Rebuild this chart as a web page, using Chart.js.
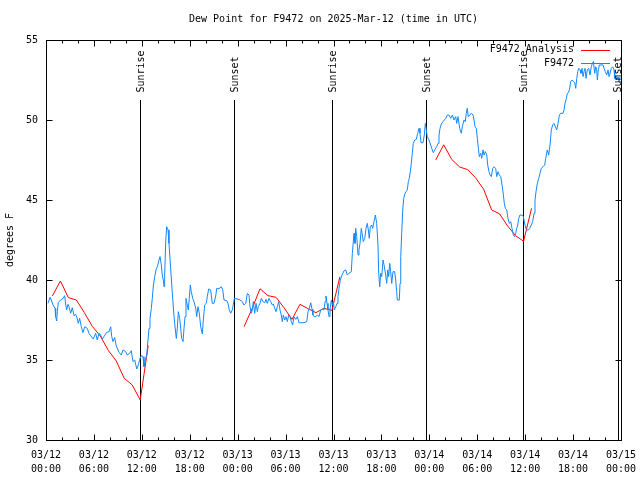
<!DOCTYPE html>
<html>
<head>
<meta charset="utf-8">
<title>Dew Point for F9472</title>
<script src="https://cdn.jsdelivr.net/npm/chart.js@4.4.1/dist/chart.umd.min.js"></script>
<style>
  html, body { margin: 0; padding: 0; background: #fff; }
  canvas { display: block; }
</style>
</head>
<body>
<canvas id="dewChart" width="640" height="480"></canvas>
<script>
// x values are hours since 03/12 00:00 UTC

// axis labels
const tickDates = ['03/12', '03/12', '03/12', '03/12', '03/13', '03/13', '03/13', '03/13', '03/14', '03/14', '03/14', '03/14', '03/15'];
const tickTimes = ['00:00', '06:00', '12:00', '18:00', '00:00', '06:00', '12:00', '18:00', '00:00', '06:00', '12:00', '18:00', '00:00'];
const yTicks = [30, 35, 40, 45, 50, 55];

// sunrise / sunset markers
const sunHours = [11.80, 23.58, 35.83, 47.63, 59.77, 71.59];
const sunLabels = ['Sunrise', 'Sunset', 'Sunrise', 'Sunset', 'Sunrise', 'Sunset'];

// F9472 observations
const blueHours = [
  0.25, 0.50, 0.66, 0.88, 1.13, 1.21, 1.34, 1.42, 1.54, 1.84,
  2.13, 2.34, 2.47, 2.59, 2.75, 2.88, 3.09, 3.29, 3.51, 3.72,
  3.92, 4.04, 4.22, 4.42, 4.63, 4.85, 5.17, 5.38, 5.60, 5.92,
  6.22, 6.42, 6.64, 6.85, 7.05, 7.26, 7.60, 7.89, 8.10, 8.23,
  8.39, 8.60, 8.80, 9.14, 9.43, 9.64, 9.98, 10.18, 10.48, 10.68,
  10.89, 11.11, 11.36, 11.56, 11.77, 11.93, 12.15, 12.27, 12.40, 12.61,
  12.77, 12.90, 13.02, 13.19, 13.31, 13.44, 13.61, 13.77, 13.94, 14.15,
  14.28, 14.44, 14.56, 14.69, 14.78, 14.86, 14.99, 15.11, 15.28, 15.40,
  15.62, 15.82, 16.03, 16.24, 16.32, 16.44, 16.57, 16.74, 16.87, 16.99,
  17.16, 17.28, 17.41, 17.53, 17.69, 17.82, 17.94, 18.07, 18.19, 18.37,
  18.53, 18.75, 18.87, 19.03, 19.20, 19.37, 19.57, 19.70, 19.87, 20.07,
  20.20, 20.37, 20.62, 20.82, 21.04, 21.25, 21.38, 21.66, 21.95, 22.13,
  22.29, 22.63, 22.79, 22.95, 23.13, 23.33, 23.45, 23.58, 24.17, 24.58,
  24.79, 25.01, 25.21, 25.42, 25.55, 25.71, 25.83, 25.96, 26.13, 26.30,
  26.46, 26.58, 26.80, 26.96, 27.17, 27.39, 27.55, 27.71, 27.92, 28.14,
  28.34, 28.46, 28.64, 28.80, 28.96, 29.14, 29.30, 29.46, 29.59, 29.72,
  29.89, 30.05, 30.22, 30.39, 30.55, 30.72, 30.89, 31.05, 31.27, 31.47,
  31.68, 32.31, 32.65, 32.81, 32.97, 33.15, 33.31, 33.43, 33.56, 33.81,
  33.97, 34.19, 34.40, 34.60, 34.81, 34.94, 35.06, 35.19, 35.31, 35.44,
  35.56, 35.73, 35.85, 35.98, 36.10, 36.28, 36.44, 36.56, 36.69, 36.85,
  37.07, 37.32, 37.53, 37.73, 37.94, 38.23, 38.36, 38.57, 38.69, 38.78,
  38.91, 39.07, 39.19, 39.32, 39.48, 39.61, 39.73, 39.91, 40.07, 40.23,
  40.36, 40.48, 40.61, 40.78, 40.91, 41.07, 41.24, 41.41, 41.57, 41.66,
  41.79, 41.91, 42.04, 42.20, 42.33, 42.54, 42.66, 42.79, 42.91, 43.04,
  43.16, 43.29, 43.45, 43.66, 43.79, 43.91, 43.99, 44.24, 44.33, 44.42,
  44.54, 44.67, 44.79, 44.96, 45.08, 45.24, 45.37, 45.49, 45.62, 45.74,
  45.87, 45.99, 46.17, 46.37, 46.54, 46.71, 46.83, 46.96, 47.21, 47.37,
  47.50, 47.62, 47.75, 47.96, 48.17, 48.37, 48.50, 48.71, 48.92, 49.09,
  49.21, 49.34, 49.50, 49.71, 50.05, 50.25, 50.46, 50.68, 50.88, 51.09,
  51.30, 51.43, 51.59, 51.80, 52.00, 52.13, 52.34, 52.50, 52.63, 52.75,
  52.88, 53.06, 53.26, 53.47, 53.60, 53.72, 53.88, 54.01, 54.14, 54.26,
  54.44, 54.56, 54.72, 54.85, 55.01, 55.19, 55.31, 55.47, 55.60, 55.76,
  55.94, 56.10, 56.31, 56.44, 56.60, 56.76, 56.94, 57.14, 57.27, 57.39,
  57.52, 57.69, 57.85, 58.02, 58.19, 58.35, 58.52, 58.69, 58.82, 58.94,
  59.07, 59.19, 59.35, 59.60, 59.77, 59.89, 60.07, 60.20, 60.40, 60.57,
  60.77, 60.94, 61.11, 61.23, 61.36, 61.52, 61.69, 61.86, 62.02, 62.23,
  62.45, 62.57, 62.77, 62.95, 63.11, 63.27, 63.45, 63.61, 63.95, 64.12,
  64.28, 64.45, 64.74, 64.87, 64.99, 65.16, 65.28, 65.41, 65.53, 65.71,
  65.87, 66.03, 66.21, 66.33, 66.46, 66.58, 66.71, 66.87, 66.99, 67.12,
  67.25, 67.37, 67.50, 67.62, 67.78, 67.96, 68.12, 68.28, 68.41, 68.54,
  68.71, 68.84, 68.96, 69.04, 69.16, 69.29, 69.75, 69.88, 70.04, 70.21,
  70.38, 70.50, 70.63, 70.79, 70.96, 71.13, 71.21, 71.34, 71.46, 71.63,
  71.75, 71.88
];
const blueValues = [
  38.54, 38.92, 38.75, 38.44, 38.23, 37.70, 37.44, 38.02, 38.60, 38.75,
  38.85, 39.02, 38.44, 38.13, 38.48, 38.33, 37.92, 38.27, 37.77, 37.85,
  37.60, 37.29, 37.60, 37.08, 36.71, 37.08, 36.98, 36.67, 36.52, 36.31,
  36.67, 36.25, 36.67, 36.56, 36.31, 36.46, 36.73, 36.77, 37.08, 36.46,
  36.15, 36.40, 35.88, 35.48, 35.31, 35.63, 35.52, 35.31, 35.42, 35.58,
  34.90, 35.00, 34.44, 34.69, 35.10, 35.27, 35.21, 34.58, 34.90, 35.31,
  36.25, 36.98, 37.60, 38.23, 38.85, 39.63, 40.21, 40.63, 40.83, 41.25,
  41.46, 40.94, 40.31, 40.00, 39.58, 40.31, 42.40, 43.33, 43.13, 42.29,
  40.63, 39.17, 37.71, 36.67, 36.35, 36.98, 38.02, 37.60, 36.98, 36.35,
  36.15, 36.98, 37.71, 38.85, 38.44, 38.13, 38.85, 39.69, 39.27, 38.85,
  38.65, 38.23, 37.71, 38.33, 37.92, 37.08, 36.63, 37.50, 38.44, 38.54,
  38.96, 39.44, 39.38, 38.54, 38.54, 39.00, 39.48, 39.46, 39.58, 39.38,
  38.75, 38.71, 38.54, 38.13, 37.92, 38.13, 38.44, 38.85, 38.79, 38.65,
  38.44, 38.54, 39.17, 39.06, 38.33, 37.92, 38.13, 38.65, 37.92, 38.54,
  38.02, 38.33, 38.54, 38.85, 38.65, 38.58, 38.79, 38.54, 38.85, 38.65,
  38.44, 38.50, 38.23, 38.02, 38.33, 38.65, 38.13, 37.81, 37.40, 37.81,
  37.50, 37.71, 37.40, 37.81, 37.71, 37.40, 37.19, 37.71, 37.54, 37.71,
  37.33, 37.33, 37.40, 38.02, 38.23, 38.58, 38.17, 37.81, 37.71, 37.71,
  37.81, 37.71, 38.13, 38.17, 38.13, 38.65, 39.00, 38.54, 38.13, 37.71,
  38.13, 38.75, 38.44, 38.65, 38.13, 38.33, 38.54, 38.96, 39.48, 40.00,
  40.31, 40.58, 40.63, 40.31, 40.42, 40.52, 41.67, 42.92, 42.29, 43.23,
  42.71, 41.56, 41.88, 42.29, 43.23, 42.81, 42.40, 42.60, 43.23, 43.54,
  43.13, 42.60, 43.33, 43.44, 43.23, 43.65, 44.06, 43.54, 42.19, 40.42,
  39.58, 40.42, 40.21, 41.25, 40.94, 40.31, 39.79, 40.63, 40.21, 41.04,
  40.52, 39.79, 40.52, 40.52, 40.00, 39.27, 38.75, 38.75, 39.79, 41.46,
  42.92, 44.38, 45.10, 45.42, 45.52, 45.63, 46.15, 46.35, 46.77, 47.29,
  47.92, 48.54, 48.75, 48.79, 49.17, 49.48, 49.17, 48.58, 48.58, 49.06,
  49.79, 49.38, 48.96, 48.75, 48.44, 48.13, 47.96, 48.17, 48.33, 48.54,
  49.06, 49.48, 49.75, 49.90, 50.10, 50.31, 50.31, 50.10, 50.31, 50.00,
  50.21, 49.79, 50.21, 49.48, 49.17, 49.58, 50.00, 49.90, 50.42, 50.73,
  50.21, 50.31, 50.42, 50.31, 50.00, 49.58, 49.48, 48.85, 48.23, 47.71,
  47.92, 47.60, 48.13, 47.81, 48.02, 47.81, 47.19, 46.77, 46.56, 46.46,
  46.98, 47.08, 46.98, 46.46, 46.77, 46.56, 46.46, 45.83, 45.31, 44.79,
  44.48, 44.38, 43.85, 43.54, 43.65, 43.23, 42.81, 42.71, 42.92, 43.23,
  43.44, 43.85, 44.06, 44.06, 43.96, 43.65, 43.23, 43.13, 43.13, 43.23,
  43.44, 43.65, 44.17, 45.00, 45.52, 46.04, 46.35, 46.67, 46.98, 47.08,
  47.19, 47.60, 48.13, 47.81, 48.44, 49.38, 49.69, 49.79, 49.38, 49.79,
  50.31, 50.42, 50.42, 50.63, 51.04, 51.35, 51.67, 51.71, 51.88, 52.40,
  52.50, 52.40, 52.33, 51.98, 52.60, 53.02, 53.23, 53.13, 52.92, 53.23,
  52.71, 53.02, 53.23, 52.60, 53.13, 53.23, 52.81, 53.33, 53.54, 53.65,
  52.92, 53.33, 53.13, 52.50, 53.13, 53.44, 53.44, 53.23, 53.02, 52.81,
  53.13, 52.71, 52.92, 53.23, 53.33, 53.13, 52.60, 52.81, 52.50, 52.71,
  52.40, 52.71
];

// F9472 Analysis (hourly runs, null = gap between runs)
const redHours = [
  0.8, 1.8, 2.8, 3.8, 4.8, 5.8, 6.8, 7.8, 8.8, 9.8, 10.8, 11.8, 12.8, null,
  24.8, 25.8, 26.8, 27.8, 28.8, 29.8, 30.8, 31.8, 32.8, 33.8, 34.8, 35.8, 36.8, null,
  48.8, 49.8, 50.8, 51.8, 52.8, 53.8, 54.8, 55.8, 56.8, 57.8, 58.8, 59.8, 60.8
];
const redValues = [
  39.00, 39.94, 38.90, 38.75, 37.96, 37.10, 36.50, 35.60, 34.94, 33.85, 33.44, 32.50, 35.90, null,
  37.08, 38.20, 39.45, 39.02, 38.92, 38.27, 37.54, 38.48, 38.21, 37.96, 38.23, 38.10, 40.20, null,
  47.50, 48.45, 47.54, 47.06, 46.90, 46.38, 45.67, 44.38, 44.13, 43.38, 42.77, 42.42, 44.48
];

const FONT = 'DejaVu Sans Mono';

function toPoints(xs, ys) {
  return xs.map((x, i) => (x === null ? { x: NaN, y: null } : { x: x, y: ys[i] }));
}

// gnuplot style border, inward ticks, sun markers, title, legend
const gnuplotDecor = {
  id: 'gnuplotDecor',
  beforeDatasetsDraw(chart) {
    const { ctx, chartArea: a, scales } = chart;
    ctx.save();
    ctx.strokeStyle = '#000';
    ctx.lineWidth = 1;
    const topY = a.bottom - (a.bottom - a.top) * 0.85;
    sunHours.forEach(h => {
      const px = Math.round(scales.x.getPixelForValue(h)) + 0.5;
      ctx.beginPath();
      ctx.moveTo(px, a.bottom);
      ctx.lineTo(px, topY);
      ctx.stroke();
    });
    ctx.restore();
  },
  afterDatasetsDraw(chart) {
    const { ctx, chartArea: a, scales } = chart;
    const L = Math.round(a.left) + 0.5, R = Math.round(a.right) + 0.5;
    const T = Math.round(a.top) + 0.5, B = Math.round(a.bottom) + 0.5;
    ctx.save();
    ctx.strokeStyle = '#000';
    ctx.lineWidth = 1;
    ctx.strokeRect(L, T, R - L, B - T);
    ctx.beginPath();
    for (let h = 0; h <= 72; h += 2) {
      const px = Math.round(scales.x.getPixelForValue(h)) + 0.5;
      const len = h % 6 === 0 ? 6 : 3;
      ctx.moveTo(px, B); ctx.lineTo(px, B - len);
      ctx.moveTo(px, T); ctx.lineTo(px, T + len);
    }
    yTicks.forEach(v => {
      const py = Math.round(scales.y.getPixelForValue(v)) + 0.5;
      ctx.moveTo(L, py); ctx.lineTo(L + 6, py);
      ctx.moveTo(R, py); ctx.lineTo(R - 6, py);
    });
    ctx.stroke();
    ctx.restore();
  },
  afterDraw(chart) {
    const { ctx, chartArea: a, scales } = chart;
    ctx.save();
    ctx.fillStyle = '#000';
    ctx.font = '10px ' + FONT;

    // title
    ctx.textAlign = 'center';
    ctx.textBaseline = 'middle';
    ctx.fillText('Dew Point for F9472 on 2025-Mar-12 (time in UTC)', (a.left + a.right) / 2, 19);

    // y axis title
    ctx.save();
    ctx.translate(10, (a.top + a.bottom) / 2);
    ctx.rotate(-Math.PI / 2);
    ctx.fillText('degrees F', 0, 0);
    ctx.restore();

    // sunrise / sunset labels
    sunHours.forEach((h, i) => {
      const px = scales.x.getPixelForValue(h) + 1;
      ctx.save();
      ctx.translate(px, a.top + 52.5);
      ctx.rotate(-Math.PI / 2);
      ctx.textAlign = 'left';
      ctx.fillText(sunLabels[i], 0, 0);
      ctx.restore();
    });

    // legend: text right aligned, line sample after it
    chart.data.datasets.forEach((ds, i) => {
      const y = 49.5 + i * 13.5;
      ctx.textAlign = 'right';
      ctx.fillStyle = '#000';
      ctx.fillText(ds.label, 574, y);
      ctx.strokeStyle = ds.borderColor;
      ctx.lineWidth = 1;
      ctx.beginPath();
      ctx.moveTo(581, Math.round(y) + 0.5);
      ctx.lineTo(610, Math.round(y) + 0.5);
      ctx.stroke();
    });
    ctx.restore();
  }
};

new Chart(document.getElementById('dewChart'), {
  type: 'line',
  data: {
    datasets: [
      {
        label: 'F9472 Analysis',
        data: toPoints(redHours, redValues),
        borderColor: '#ff0000',
        borderWidth: 1,
        pointRadius: 0,
        tension: 0,
        spanGaps: false,
        order: 2
      },
      {
        label: 'F9472',
        data: toPoints(blueHours, blueValues),
        borderColor: '#1188ff',
        borderWidth: 1,
        pointRadius: 0,
        tension: 0,
        order: 1
      }
    ]
  },
  options: {
    responsive: false,
    animation: false,
    devicePixelRatio: 1,
    layout: { padding: { top: 40, right: 19, left: 0, bottom: 0 } },
    plugins: {
      legend: { display: false },
      title: { display: false },
      tooltip: { enabled: false }
    },
    scales: {
      x: {
        type: 'linear',
        min: 0,
        max: 72,
        grid: { display: false, drawTicks: false },
        border: { display: false },
        afterFit: s => { s.height = 40; s.paddingLeft = 0; s.paddingRight = 0; },
        ticks: {
          stepSize: 2,
          autoSkip: false,
          maxRotation: 0,
          padding: 8,
          color: '#000',
          font: { family: FONT, size: 10, lineHeight: 1.4 },
          callback: v => (v % 6 === 0 ? [tickDates[v / 6], tickTimes[v / 6]] : '')
        }
      },
      y: {
        min: 30,
        max: 55,
        grid: { display: false, drawTicks: false },
        border: { display: false },
        afterFit: s => { s.width = 46; },
        ticks: {
          stepSize: 5,
          padding: 8,
          color: '#000',
          font: { family: FONT, size: 10 }
        }
      }
    }
  },
  plugins: [gnuplotDecor]
});
</script>
</body>
</html>
